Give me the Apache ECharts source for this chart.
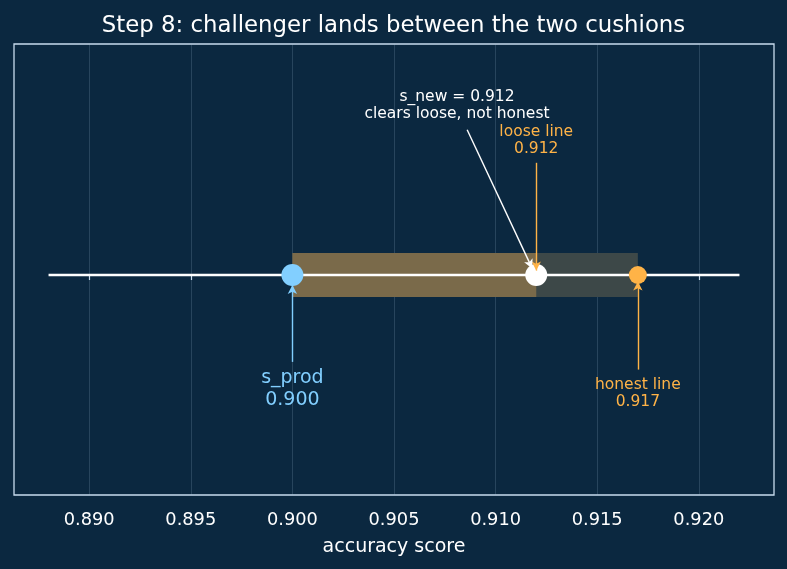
<!DOCTYPE html>
<html>
<head>
<meta charset="utf-8">
<script src="https://cdn.jsdelivr.net/npm/echarts@6/dist/echarts.min.js"></script>
<style>
    html, body { margin: 0; padding: 0; background: #0b2840; }
    #chart { width: 787px; height: 569px; }
</style>
</head>
<body>
<div id="chart"></div>
<script>
// scores on the accuracy axis
const sProd = 0.900;
const sNew = 0.912;
const looseLine = 0.912;
const honestLine = 0.917;
const lineRange = [0.888, 0.922];
const xLimits = [0.8863, 0.9237];
const tickValues = [0.890, 0.895, 0.900, 0.905, 0.910, 0.915, 0.920];

// annotation layout in data units: [textX, textY, arrowFromX, arrowFromY, arrowToX, arrowToY]
const noteProd = [0.900, -0.52, 0.900, -0.395, 0.900, -0.045];
const noteHonest = [0.917, -0.54, 0.917, -0.43, 0.917, -0.03];
const noteLoose = [0.912, 0.61, 0.912, 0.51, 0.912, 0.02];
const noteNew = [0.9081, 0.77, 0.9086, 0.66, 0.9118, 0.03];

const BLUE = "#82cfff";
const ORANGE = "#ffb347";
const FONT = "DejaVu Sans";
const bandHalf = 0.1;

function arrow(n, color) {
    return [{ coord: [n[2], n[3]], lineStyle: { color: color, width: 1.4, type: "solid", opacity: 1 } },
            { coord: [n[4], n[5]] }];
}

const chart = echarts.init(document.getElementById("chart"));
chart.setOption({
    backgroundColor: "#0b2840",
    animation: false,
    title: {
        text: "Step 8: challenger lands between the two cushions",
        left: "center",
        top: 10,
        textStyle: { color: "#ffffff", fontSize: 22.8, fontWeight: "normal", fontFamily: FONT }
    },
    grid: {
        left: 14, right: 13, top: 44, bottom: 74,
        show: true, borderColor: "#c9dcee", borderWidth: 1.3
    },
    xAxis: {
        type: "value",
        min: xLimits[0],
        max: xLimits[1],
        name: "accuracy score",
        nameLocation: "middle",
        nameGap: 43,
        nameTextStyle: { color: "#ffffff", fontSize: 19, fontFamily: FONT },
        axisLine: { show: false },
        axisTick: { show: true, length: 5, lineStyle: { color: "#c9dcee", width: 1.2 }, customValues: tickValues },
        axisLabel: { color: "#ffffff", fontSize: 17.8, fontFamily: FONT, margin: 16,
            customValues: tickValues, formatter: v => v.toFixed(3) },
        splitLine: { show: true, lineStyle: { color: "rgba(170,195,220,0.24)", width: 0.8 } }
    },
    yAxis: {
        type: "value",
        min: -1,
        max: 1.05,
        show: false,
        splitLine: { show: false }
    },
    series: [
        {
            type: "line",
            name: "range",
            data: [[lineRange[0], 0], [lineRange[1], 0]],
            symbol: "none",
            lineStyle: { color: "#ffffff", width: 2.4 },
            z: 3,
            markArea: {
                silent: true,
                data: [
                    [{ coord: [sProd, -bandHalf], itemStyle: { color: "#3d4848", opacity: 1 } }, { coord: [honestLine, bandHalf] }],
                    [{ coord: [sProd, -bandHalf], itemStyle: { color: "#7a6a4a", opacity: 1 } }, { coord: [looseLine, bandHalf] }]
                ]
            }
        },
        {
            type: "scatter",
            name: "points",
            z: 4,
            itemStyle: { opacity: 1 },
            data: [
                { value: [sProd, 0], symbolSize: 22, itemStyle: { color: BLUE } },
                { value: [sNew, 0], symbolSize: 22, itemStyle: { color: "#ffffff" } },
                { value: [honestLine, 0], symbolSize: 18, itemStyle: { color: ORANGE } }
            ]
        },
        {
            type: "scatter",
            name: "notes",
            z: 5,
            symbolSize: 0,
            itemStyle: { opacity: 1 },
            data: [
                { value: [noteProd[0], noteProd[1]], label: { formatter: "s_prod\n" + sProd.toFixed(3), color: BLUE, fontSize: 19, lineHeight: 22 } },
                { value: [noteHonest[0], noteHonest[1]], label: { formatter: "honest line\n" + honestLine.toFixed(3), color: ORANGE, fontSize: 15.5, lineHeight: 17 } },
                { value: [noteLoose[0], noteLoose[1]], label: { formatter: "loose line\n" + looseLine.toFixed(3), color: ORANGE, fontSize: 15.5, lineHeight: 17 } },
                { value: [noteNew[0], noteNew[1]], label: { formatter: "s_new = " + sNew.toFixed(3) + "\nclears loose, not honest", color: "#ffffff", fontSize: 15.5, lineHeight: 17 } }
            ],
            label: { show: true, position: "inside", align: "center", verticalAlign: "middle", fontFamily: FONT, opacity: 1 },
            markLine: {
                silent: true,
                symbol: ["none", "arrow"],
                symbolSize: [7, 9],
                label: { show: false },
                data: [
                    arrow(noteProd, BLUE),
                    arrow(noteHonest, ORANGE),
                    arrow(noteLoose, ORANGE),
                    arrow(noteNew, "#ffffff")
                ]
            }
        }
    ]
});
</script>
</body>
</html>
